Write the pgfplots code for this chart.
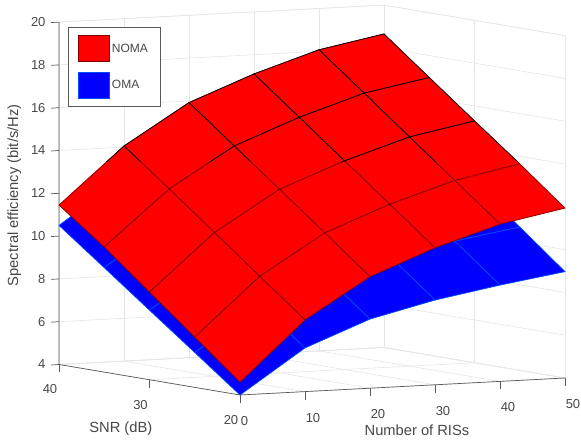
\documentclass[border=0pt]{standalone}
\usepackage{pgfplots}
\usepackage{pgfplotstable}
\pgfplotsset{compat=1.18}
\usepackage{fontspec}
\setmainfont{Liberation Sans}
\definecolor{axc}{gray}{0.35}
\definecolor{lab}{gray}{0.28}
\definecolor{gr}{gray}{0.9}
\definecolor{dkred}{rgb}{0.55,0,0}
\pgfplotstableread[row sep=\\]{
 x y z\\
 0 20 4.60\\ 10 20 7.35\\ 20 20 9.21\\ 30 20 10.40\\ 40 20 11.35\\ 50 20 11.94\\
 0 25 6.35\\ 10 25 9.03\\ 20 25 10.90\\ 30 25 12.08\\ 40 25 13.03\\ 50 25 13.65\\
 0 30 8.10\\ 10 30 10.72\\ 20 30 12.58\\ 30 30 13.75\\ 40 30 14.71\\ 50 30 15.30\\
 0 35 9.85\\ 10 35 12.40\\ 20 35 14.25\\ 30 35 15.43\\ 40 35 16.40\\ 50 35 16.97\\
 0 40 11.45\\ 10 40 14.05\\ 20 40 15.92\\ 30 40 17.10\\ 40 40 18.07\\ 50 40 18.65\\
}\noma
\pgfplotstableread[row sep=\\]{
 x y z\\
 0 20 4.00\\ 10 20 6.04\\ 20 20 7.23\\ 30 20 7.96\\ 40 20 8.50\\ 50 20 8.97\\
 0 25 5.63\\ 10 25 7.67\\ 20 25 8.90\\ 30 25 9.65\\ 40 25 10.20\\ 50 25 10.70\\
 0 30 7.25\\ 10 30 9.30\\ 20 30 10.55\\ 30 30 11.30\\ 40 30 11.87\\ 50 30 12.37\\
 0 35 8.88\\ 10 35 10.95\\ 20 35 12.20\\ 30 35 12.95\\ 40 35 13.50\\ 50 35 14.02\\
 0 40 10.50\\ 10 40 12.60\\ 20 40 13.85\\ 30 40 14.60\\ 40 40 15.15\\ 50 40 15.70\\
}\oma
\begin{document}
\begin{tikzpicture}[x=1pt,y=1pt]
\path[use as bounding box] (0,0) rectangle (581,443);
\begin{axis}[
  at={(240pt,48pt)}, anchor=origin,
  x={(6.5pt,0.34pt)}, y={(-9.05pt,1.525pt)}, z={(0pt,21.4pt)},
  xmin=0,xmax=50,ymin=20,ymax=40,zmin=4,zmax=20,
  xtick={0,10,20,30,40,50}, ytick={20,30,40}, ztick={4,6,...,20},
  xticklabels={\hspace*{-7pt}0,10,20,30,40,50},
  major tick length=0pt,
  grid=major, grid style={gr,line width=0.6pt},
  axis line style={draw=none},
  clip=false,
  point meta min=0, point meta max=1,
  tick label style={font=\fontsize{13pt}{15pt}\selectfont, text=lab},
  /pgf/number format/assume math mode=true,
  xticklabel style={anchor=center,xshift=8pt,yshift=-26pt},
  yticklabel style={anchor=center,xshift=-9pt,yshift=-25pt},
  zticklabel pos=left,
  zticklabel style={anchor=east,xshift=-10pt},
  xlabel={Number of RISs}, ylabel={SNR (dB)}, zlabel={Spectral efficiency (bit/s/Hz)},
  label style={font=\fontsize{14.7pt}{16pt}\selectfont, text=lab},
  xlabel style={at={(ticklabel cs:0.5)},anchor=center,rotate=0,xshift=-10pt,yshift=-15pt},
  ylabel style={at={(ticklabel cs:0.5)},anchor=center,rotate=0,xshift=-3pt,yshift=-22pt},
  zlabel style={at={(ticklabel cs:0.5)},anchor=center,rotate=0,xshift=-4pt,yshift=13pt},
  legend cell align=left,
  legend style={at={(-172pt,368pt)},anchor=north west,draw=axc,line width=0.8pt,font=\fontsize{12pt}{14pt}\selectfont,text=lab,inner xsep=10pt,inner ysep=8pt,row sep=10pt},
]
\addlegendimage{legend image code/.code={\draw[fill=red,draw=red!50!black,line width=0.6pt] (0pt,-13pt) rectangle (31pt,13pt);}}
\addlegendentry{NOMA}
\addlegendimage{legend image code/.code={\draw[fill=blue,draw=blue!70!cyan,line width=0.6pt] (0pt,-13pt) rectangle (31pt,13pt);}}
\addlegendentry{OMA}
\draw[gr,line width=0.6pt] (axis cs:0,40,20) -- (axis cs:50,40,20) -- (axis cs:50,20,20);
\draw[gr,line width=0.6pt] (axis cs:0,40,4) -- (axis cs:50,40,4) -- (axis cs:50,20,4);
\draw[gr,line width=0.6pt] (axis cs:50,40,4) -- (axis cs:50,40,20);
\draw[gr,line width=0.6pt] (axis cs:50,20,4) -- (axis cs:50,20,20);
\draw[axc,line width=0.7pt] (axis cs:0,40,20) -- (axis cs:0,40,4) -- (axis cs:0,20,4) -- (axis cs:50,20,4);
\pgfplotsinvokeforeach{0,10,20,30,40,50}{\draw[axc,line width=0.7pt] (axis cs:#1,20,4) -- ++(0pt,-8pt);}
\pgfplotsinvokeforeach{20,30,40}{\draw[axc,line width=0.7pt] (axis cs:0,#1,4) -- ++(0pt,-8pt);}
\pgfplotsinvokeforeach{4,6,...,20}{\draw[axc,line width=0.7pt] (axis cs:0,40,#1) -- ++(-8pt,-0.5pt);}
\addplot3[surf, shader=faceted, faceted color=blue!70!cyan, line width=0.7pt, forget plot,
  colormap={bl}{rgb255(0cm)=(0,0,255); rgb255(1cm)=(0,0,255)}, point meta=1, mesh/rows=5, mesh/cols=6]
 table {\oma};
\addplot3[surf, shader=faceted, faceted color=dkred, line width=0.8pt, forget plot,
  colormap={rd}{rgb255(0cm)=(255,0,0); rgb255(1cm)=(255,0,0)}, point meta=1, mesh/rows=5, mesh/cols=6]
 table {\noma};
\addplot3[surf, shader=faceted, faceted color=black, line width=0.7pt, forget plot,
  colormap={rd}{rgb255(0cm)=(255,0,0); rgb255(1cm)=(255,0,0)}, point meta=1, mesh/rows=5, mesh/cols=6,
  execute at begin plot visualization={\begin{scope}\clip (axis cs:0,20,4) ++(-300pt,233pt) rectangle ++(700pt,300pt);},
  execute at end plot visualization={\end{scope}}]
 table {\noma};
\end{axis}
\end{tikzpicture}
\end{document}
